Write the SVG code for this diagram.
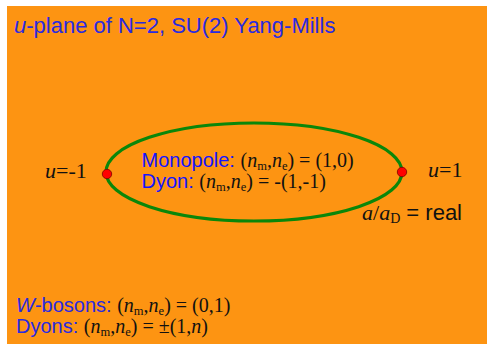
<svg xmlns="http://www.w3.org/2000/svg" width="487" height="344" viewBox="0 0 487 344">
<style>
.sans{font-family:"Liberation Sans",Arial,sans-serif}
.serif{font-family:"Liberation Serif","Times New Roman",serif}
.blue{fill:#2a2ae0}
.mblue{fill:#1414ff}
.blk{fill:#111}
.it{font-style:italic}
.sub{font-size:12.5px}
.dot{fill:#ff0000;stroke:#7a0000;stroke-width:0.8}
</style>
<rect x="0" y="0" width="487" height="344" fill="#ffffff"/>
<rect x="7" y="6" width="480" height="338" fill="#fd9412"/>
<g id="title">
<text x="14" y="33" class="sans blue" font-size="22"><tspan class="it">u</tspan>-plane of N=2, SU(2) Yang-Mills</text>
</g>
<g id="connectors">
<ellipse cx="254" cy="172" rx="148" ry="49" fill="none" stroke="#0a870a" stroke-width="3.2"/>
</g>
<g id="node-left">
<circle cx="107" cy="174" r="4.7" class="dot"/>
<text x="45" y="178" class="serif blk" font-size="22"><tspan class="it">u</tspan>=-1</text>
</g>
<g id="node-right">
<circle cx="402" cy="172" r="4.7" class="dot"/>
<text x="428" y="177" class="serif blk" font-size="22"><tspan class="it">u</tspan>=1</text>
</g>
<g id="inner-label">
<text x="141.5" y="167" font-size="20"><tspan class="sans mblue">Monopole: </tspan><tspan class="serif blk">(<tspan class="it">n</tspan><tspan class="sub" dy="3">m</tspan><tspan dy="-3">,</tspan><tspan class="it">n</tspan><tspan class="sub" dy="3">e</tspan><tspan dy="-3">) = (1,0)</tspan></tspan></text>
<text x="141.5" y="188" font-size="20"><tspan class="sans mblue">Dyon: </tspan><tspan class="serif blk">(<tspan class="it">n</tspan><tspan class="sub" dy="3">m</tspan><tspan dy="-3">,</tspan><tspan class="it">n</tspan><tspan class="sub" dy="3">e</tspan><tspan dy="-3">) = -(1,-1)</tspan></tspan></text>
</g>
<g id="real-label">
<text x="362" y="220" font-size="22"><tspan class="serif blk it">a</tspan><tspan class="serif blk">/</tspan><tspan class="serif blk it">a</tspan><tspan class="serif blk" font-size="14" dy="3">D</tspan><tspan class="sans blk" dy="-3"> = real</tspan></text>
</g>
<g id="bottom-label">
<text x="16" y="312" font-size="20"><tspan class="sans blue"><tspan class="it">W</tspan>-bosons: </tspan><tspan class="serif blk">(<tspan class="it">n</tspan><tspan class="sub" dy="3">m</tspan><tspan dy="-3">,</tspan><tspan class="it">n</tspan><tspan class="sub" dy="3">e</tspan><tspan dy="-3">) = (0,1)</tspan></tspan></text>
<text x="16" y="333" font-size="20"><tspan class="sans blue">Dyons: </tspan><tspan class="serif blk">(<tspan class="it">n</tspan><tspan class="sub" dy="3">m</tspan><tspan dy="-3">,</tspan><tspan class="it">n</tspan><tspan class="sub" dy="3">e</tspan><tspan dy="-3">) = ±(1,<tspan class="it">n</tspan>)</tspan></tspan></text>
</g>
</svg>
